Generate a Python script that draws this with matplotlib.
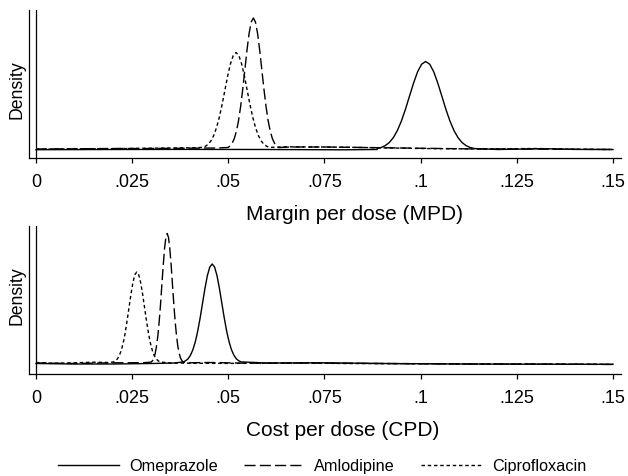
import numpy as np
import matplotlib
matplotlib.use('Agg')
import matplotlib.pyplot as plt

plt.rcParams['font.family'] = ['Liberation Sans', 'DejaVu Sans']

# Density curves (density in arbitrary units, baseline ~0)
# ---- top panel: Margin per dose (MPD)
mpd_ome_x = [0.0, 0.02, 0.04, 0.06, 0.08, 0.0887,
             0.0887, 0.08975, 0.0908, 0.09185, 0.0929, 0.09395, 0.095, 0.09605, 0.0971,
             0.09815, 0.0992, 0.10025, 0.1013, 0.10235, 0.1034, 0.10445, 0.1055, 0.10655,
             0.1076, 0.10865, 0.1097, 0.11075, 0.1118, 0.11285, 0.1139,
             0.12, 0.132, 0.14, 0.15]
mpd_ome_y = [0.3, 0.5, 0.6, 0.5, 0.2, 0.5,
             1.5, 2.5, 4.4, 7.5, 12.4, 19.5, 29.1, 40.8, 53.9,
             66.9, 78.2, 85.8, 88.5, 85.8, 78.2, 66.9, 53.9, 40.8,
             29.1, 19.5, 12.4, 7.5, 4.4, 2.5, 1.5,
             0.5, 1.3, 0.6, 0.5]

mpd_aml_x = [0.0, 0.01, 0.02, 0.03, 0.04, 0.047,
             0.0499, 0.05045, 0.0510, 0.05155, 0.0521, 0.05265, 0.0532, 0.05375, 0.0543,
             0.05485, 0.0554, 0.05595, 0.0565, 0.05705, 0.0576, 0.05815, 0.0587, 0.05925,
             0.0598, 0.06035, 0.0609, 0.06145, 0.0620, 0.06255, 0.0631,
             0.066, 0.075, 0.085, 0.095, 0.105, 0.115, 0.125, 0.135, 0.15]
mpd_aml_y = [1.0, 1.2, 1.5, 1.5, 1.8, 2.0,
             2.5, 4.0, 6.8, 11.4, 18.7, 29.3, 43.5, 61.0, 80.5,
             99.9, 116.6, 128.0, 132.0, 128.0, 116.6, 99.9, 80.5, 61.0,
             43.5, 29.3, 18.7, 11.4, 6.8, 4.0, 2.5,
             3.0, 3.0, 2.5, 2.0, 1.5, 1.0, 1.0, 0.8, 0.5]

mpd_cip_x = [0.0, 0.01, 0.02, 0.03, 0.04,
             0.0433, 0.04403, 0.04475, 0.04548, 0.0462, 0.04693, 0.04765, 0.04838, 0.0491,
             0.04983, 0.05055, 0.05128, 0.0520, 0.05273, 0.05345, 0.05418, 0.0549, 0.05563,
             0.05635, 0.05708, 0.0578, 0.05853, 0.05925, 0.05998, 0.0607,
             0.065, 0.075, 0.085, 0.10, 0.115, 0.13, 0.14, 0.15]
mpd_cip_y = [0.8, 1.2, 1.3, 1.8, 2.2,
             2.6, 3.7, 5.7, 9.1, 14.5, 22.3, 32.7, 45.4, 59.7,
             74.0, 86.2, 94.5, 97.5, 94.5, 86.2, 74.0, 59.7, 45.4,
             32.7, 22.3, 14.5, 9.1, 5.7, 3.7, 2.6,
             3.2, 3.0, 2.5, 1.5, 1.0, 1.5, 0.8, 0.5]

# ---- bottom panel: Cost per dose (CPD)
cpd_ome_x = [0.0, 0.01, 0.02, 0.03, 0.036,
             0.0383, 0.03893, 0.03955, 0.04018, 0.0408, 0.04143, 0.04205, 0.04268, 0.0433,
             0.04393, 0.04455, 0.04518, 0.0458, 0.04643, 0.04705, 0.04768, 0.0483, 0.04893,
             0.04955, 0.05018, 0.0508, 0.05143, 0.05205, 0.05268, 0.0533,
             0.06, 0.075, 0.09, 0.11, 0.13, 0.15]
cpd_ome_y = [0.5, 0.0, 0.0, 0.5, 1.0,
             2.1, 3.3, 5.3, 8.9, 14.4, 22.4, 33.1, 46.3, 61.0,
             75.7, 88.4, 97.0, 100.0, 97.0, 88.4, 75.7, 61.0, 46.3,
             33.1, 22.4, 14.4, 8.9, 5.3, 3.3, 2.1,
             1.0, 1.2, 0.5, 0.0, -0.2, -0.3]

cpd_aml_x = [0.0, 0.01, 0.02, 0.028,
             0.02996, 0.03031, 0.03065, 0.0310, 0.03134, 0.03169, 0.03203, 0.03238, 0.03272,
             0.03307, 0.03341, 0.03376, 0.0341, 0.03445, 0.03479, 0.03514, 0.03548, 0.03583,
             0.03617, 0.03652, 0.03686, 0.03721, 0.03755, 0.0379, 0.03824,
             0.04, 0.045, 0.055, 0.07, 0.09, 0.11, 0.13, 0.15]
cpd_aml_y = [1.0, 0.5, 1.2, 1.3,
             1.9, 3.5, 6.2, 10.8, 18.1, 28.6, 42.7, 60.0, 79.3,
             98.6, 115.2, 126.5, 130.5, 126.5, 115.2, 98.6, 79.3, 60.0,
             42.7, 28.6, 18.1, 10.8, 6.2, 3.5, 1.9,
             1.2, 1.5, 0.8, 1.0, 0.5, 0.0, 0.0, -0.5]

cpd_cip_x = [0.0, 0.005, 0.01, 0.015, 0.019,
             0.02011, 0.02062, 0.02113, 0.02163, 0.02214, 0.02265, 0.02316, 0.02366, 0.02417,
             0.02468, 0.02519, 0.02569, 0.0262, 0.02671, 0.02722, 0.02772, 0.02823, 0.02874,
             0.02925, 0.02975, 0.03026, 0.03077, 0.03128, 0.03178, 0.03229,
             0.035, 0.04, 0.05, 0.06, 0.07, 0.08, 0.10, 0.12, 0.15]
cpd_cip_y = [1.5, 0.8, 1.2, 1.8, 1.5,
             2.0, 3.1, 5.0, 8.2, 13.3, 20.7, 30.5, 42.7, 56.2,
             69.7, 81.3, 89.2, 92.0, 89.2, 81.3, 69.7, 56.2, 42.7,
             30.5, 20.7, 13.3, 8.2, 5.0, 3.1, 2.0,
             1.0, 0.8, 0.6, 0.8, 1.0, 0.5, 0.3, 0.0, -0.3]

xticks = [0, 0.025, 0.05, 0.075, 0.1, 0.125, 0.15]
xticklabels = ['0', '.025', '.05', '.075', '.1', '.125', '.15']
drugs = ['Omeprazole', 'Amlodipine', 'Ciprofloxacin']

W, H = 628, 477
fig = plt.figure(figsize=(W / 100, H / 100), dpi=100)

styles = [dict(linestyle='-'),
          dict(linestyle=(0, (8, 3))),
          dict(linestyle=(0, (2.5, 2)))]


def panel(rect, ylim, curves):
    ax = fig.add_axes(rect)
    for (x, y), st, name in zip(curves, styles, drugs):
        ax.plot(x, y, color='black', lw=1.0, label=name, **st)
    ax.axvline(0, color='black', lw=0.9)
    ax.set_xlim(-0.00182, 0.15208)
    ax.set_ylim(*ylim)
    ax.set_xticks(xticks)
    ax.set_xticklabels(xticklabels)
    ax.set_yticks([])
    for s in ['top', 'right']:
        ax.spines[s].set_visible(False)
    for s in ['left', 'bottom']:
        ax.spines[s].set_linewidth(0.9)
    ax.tick_params(axis='x', direction='out', length=3.4, width=0.9,
                   pad=7.5, labelsize=13)
    return ax


ax1 = panel([29 / W, 1 - 159 / H, 592 / W, 148 / H], (-8, 140),
            [(mpd_ome_x, mpd_ome_y), (mpd_aml_x, mpd_aml_y), (mpd_cip_x, mpd_cip_y)])
ax2 = panel([29 / W, 1 - 374.5 / H, 592 / W, 147.5 / H], (-9.5, 138),
            [(cpd_ome_x, cpd_ome_y), (cpd_aml_x, cpd_aml_y), (cpd_cip_x, cpd_cip_y)])

fig.text(17 / W, 1 - 89.5 / H, 'Density', rotation=90, ha='center', va='center', fontsize=12.7)
fig.text(17 / W, 1 - 295.5 / H, 'Density', rotation=90, ha='center', va='center', fontsize=12.7)
fig.text(245.5 / W, 1 - 220 / H, 'Margin per dose (MPD)', ha='left', va='baseline', fontsize=15)
fig.text(245.5 / W, 1 - 436.5 / H, 'Cost per dose (CPD)', ha='left', va='baseline', fontsize=15)

handles, labels = ax2.get_legend_handles_labels()
fig.legend(handles, labels, loc='center', bbox_to_anchor=(322 / W, 1 - 467 / H),
           ncol=3, frameon=False, fontsize=11.7, handlelength=3.75,
           handletextpad=0.6, columnspacing=1.6)

fig.savefig('out.png', dpi=100)
